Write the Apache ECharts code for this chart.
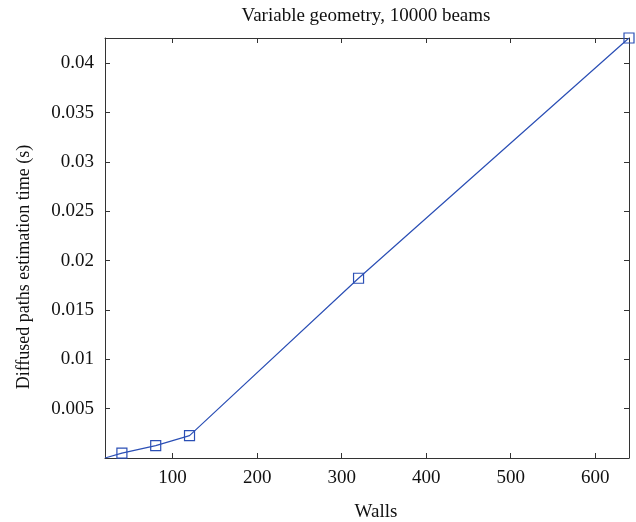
<!DOCTYPE html>
<html><head><meta charset="utf-8">
<script src="https://cdn.jsdelivr.net/npm/echarts@6/dist/echarts.min.js"></script>
<style>html,body{margin:0;padding:0;background:#fff}#c{width:636px;height:522px}</style>
</head><body><div id="c"></div>
<script>
var walls = [20, 40, 80, 120, 320, 640];
var times = [0.0, 0.0005, 0.00126, 0.00227, 0.01822, 0.04257];
var markerShown = [false, true, true, true, true, true];
var xTicks = [100, 200, 300, 400, 500, 600];
var yTicks = [0.005, 0.01, 0.015, 0.02, 0.025, 0.03, 0.035, 0.04];
var xMin = 20, xMax = 640, yMin = 0, yMax = 0.04257;

var font = '"Liberation Serif", "DejaVu Serif", serif';
var axisColor = '#333';
var lineColor = '#2b4fb5';

var data = walls.map(function (w, i) {
  var d = { value: [w, times[i]] };
  if (!markerShown[i]) d.symbol = 'none';
  return d;
});

function baseAxis(extra) {
  var a = {
    axisLine: { show: true, onZero: false, lineStyle: { color: axisColor, width: 1 } },
    splitLine: { show: false }
  };
  for (var k in extra) a[k] = extra[k];
  return a;
}

var chart = echarts.init(document.getElementById('c'), null, { renderer: 'canvas' });
chart.setOption({
  animation: false,
  backgroundColor: '#fff',
  title: {
    text: 'Variable geometry, 10000 beams',
    left: 361, top: 2, textAlign: 'center',
    textStyle: { fontFamily: font, fontSize: 19, fontWeight: 'normal', color: '#111' }
  },
  grid: { left: 105, top: 38, right: 7, bottom: 64, containLabel: false, outerBoundsMode: 'none' },
  xAxis: [
    baseAxis({
      type: 'value', min: xMin, max: xMax, position: 'bottom',
      name: 'Walls', nameLocation: 'middle', nameGap: 45,
      nameTextStyle: { fontFamily: font, fontSize: 19, color: '#111', padding: [0, 0, 0, 18] },
      axisTick: { show: true, inside: true, length: 5, lineStyle: { color: axisColor }, customValues: xTicks },
      axisLabel: { show: true, color: '#111', fontFamily: font, fontSize: 19, margin: 11, customValues: xTicks }
    }),
    baseAxis({
      type: 'value', min: xMin, max: xMax, position: 'top',
      axisTick: { show: true, inside: true, length: 5, lineStyle: { color: axisColor }, customValues: xTicks },
      axisLabel: { show: false }
    })
  ],
  yAxis: [
    baseAxis({
      type: 'value', min: yMin, max: yMax, position: 'left',
      name: 'Diffused paths estimation time (s)', nameLocation: 'middle', nameGap: 72,
      nameTextStyle: { fontFamily: font, fontSize: 18, color: '#111', padding: [0, 38, 0, 0] },
      axisTick: { show: true, inside: true, length: 5, lineStyle: { color: axisColor }, customValues: yTicks },
      axisLabel: { show: true, color: '#111', fontFamily: font, fontSize: 19, margin: 11, customValues: yTicks,
        formatter: function (v) { return String(+v.toFixed(4)); } }
    }),
    baseAxis({
      type: 'value', min: yMin, max: yMax, position: 'right',
      axisTick: { show: true, inside: true, length: 5, lineStyle: { color: axisColor }, customValues: yTicks },
      axisLabel: { show: false }
    })
  ],
  series: [{
    type: 'line',
    data: data,
    xAxisIndex: 0, yAxisIndex: 0,
    symbol: 'rect', symbolSize: 10,
    showAllSymbol: true,
    clip: true,
    lineStyle: { color: lineColor, width: 1.2 },
    itemStyle: { color: 'rgba(0,0,0,0)', borderColor: lineColor, borderWidth: 1.2 }
  }]
});
</script></body></html>
